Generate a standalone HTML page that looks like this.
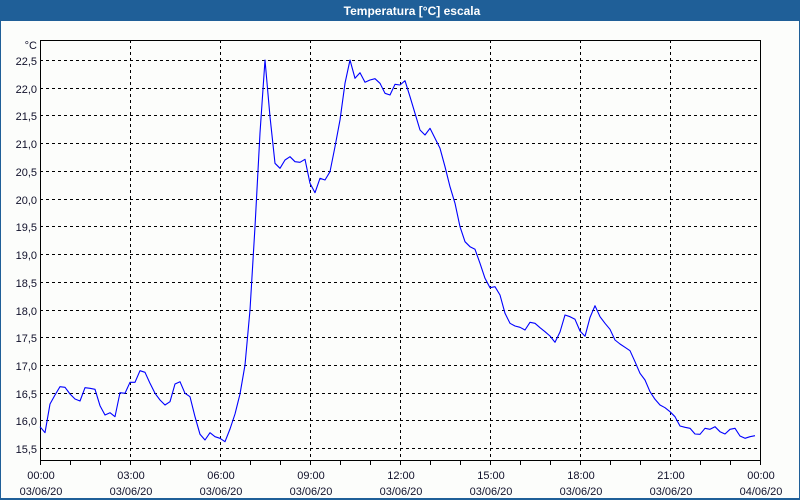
<!DOCTYPE html>
<html>
<head>
<meta charset="utf-8">
<style>
html,body{margin:0;padding:0;background:#fff;}
svg{display:block;}
text{font-family:"Liberation Sans","DejaVu Sans",sans-serif;}
</style>
</head>
<body>
<svg width="800" height="500" viewBox="0 0 800 500" xmlns="http://www.w3.org/2000/svg">
  <rect x="0" y="0" width="800" height="500" fill="#fcfdfb"/>
  <!-- frame -->
  <rect x="0" y="0" width="800" height="21" fill="#1f5f98"/>
  <rect x="0" y="0" width="1" height="500" fill="#1f5f98"/>
  <rect x="799" y="0" width="1" height="500" fill="#1f5f98"/>
  <rect x="0" y="498" width="800" height="2" fill="#1f5f98"/>
  <text x="412" y="15" fill="#ffffff" font-size="12" font-weight="bold" text-anchor="middle">Temperatura [°C] escala</text>

  <!-- grid horizontal -->
  <g stroke="#000" stroke-width="1" stroke-dasharray="3,3" shape-rendering="crispEdges">
    <line x1="40" y1="60.5" x2="760" y2="60.5"/>
    <line x1="40" y1="88.5" x2="760" y2="88.5"/>
    <line x1="40" y1="115.5" x2="760" y2="115.5"/>
    <line x1="40" y1="143.5" x2="760" y2="143.5"/>
    <line x1="40" y1="171.5" x2="760" y2="171.5"/>
    <line x1="40" y1="199.5" x2="760" y2="199.5"/>
    <line x1="40" y1="226.5" x2="760" y2="226.5"/>
    <line x1="40" y1="254.5" x2="760" y2="254.5"/>
    <line x1="40" y1="282.5" x2="760" y2="282.5"/>
    <line x1="40" y1="310.5" x2="760" y2="310.5"/>
    <line x1="40" y1="337.5" x2="760" y2="337.5"/>
    <line x1="40" y1="365.5" x2="760" y2="365.5"/>
    <line x1="40" y1="393.5" x2="760" y2="393.5"/>
    <line x1="40" y1="420.5" x2="760" y2="420.5"/>
    <line x1="40" y1="448.5" x2="760" y2="448.5"/>
    <!-- vertical -->
    <line x1="130.5" y1="40" x2="130.5" y2="460"/>
    <line x1="220.5" y1="40" x2="220.5" y2="460"/>
    <line x1="310.5" y1="40" x2="310.5" y2="460"/>
    <line x1="400.5" y1="40" x2="400.5" y2="460"/>
    <line x1="490.5" y1="40" x2="490.5" y2="460"/>
    <line x1="580.5" y1="40" x2="580.5" y2="460"/>
    <line x1="670.5" y1="40" x2="670.5" y2="460"/>
  </g>

  <!-- plot box -->
  <g stroke="#000" stroke-width="1" fill="none" shape-rendering="crispEdges">
    <polyline points="40.5,460.5 40.5,40.5 760.5,40.5 760.5,460.5 40.5,460.5"/>
    <path d="M40.5 460 V465 M70.5 460 V465 M100.5 460 V465 M130.5 460 V465 M160.5 460 V465 M190.5 460 V465 M220.5 460 V465 M250.5 460 V465 M280.5 460 V465 M310.5 460 V465 M340.5 460 V465 M370.5 460 V465 M400.5 460 V465 M430.5 460 V465 M460.5 460 V465 M490.5 460 V465 M520.5 460 V465 M550.5 460 V465 M580.5 460 V465 M610.5 460 V465 M640.5 460 V465 M670.5 460 V465 M700.5 460 V465 M730.5 460 V465 M760.5 460 V465"/>
  </g>

  <!-- y labels -->
  <g fill="#10102a" font-size="11" text-anchor="end">
    <text x="37" y="49">°C</text>
    <text x="37" y="65">22,5</text>
    <text x="37" y="93">22,0</text>
    <text x="37" y="120">21,5</text>
    <text x="37" y="148">21,0</text>
    <text x="37" y="176">20,5</text>
    <text x="37" y="204">20,0</text>
    <text x="37" y="231">19,5</text>
    <text x="37" y="259">19,0</text>
    <text x="37" y="287">18,5</text>
    <text x="37" y="315">18,0</text>
    <text x="37" y="342">17,5</text>
    <text x="37" y="370">17,0</text>
    <text x="37" y="398">16,5</text>
    <text x="37" y="425">16,0</text>
    <text x="37" y="453">15,5</text>
  </g>

  <!-- x labels -->
  <g fill="#10102a" font-size="11" text-anchor="middle">
    <text x="41" y="479">00:00</text><text x="41" y="495">03/06/20</text>
    <text x="131" y="479">03:00</text><text x="131" y="495">03/06/20</text>
    <text x="221" y="479">06:00</text><text x="221" y="495">03/06/20</text>
    <text x="311" y="479">09:00</text><text x="311" y="495">03/06/20</text>
    <text x="401" y="479">12:00</text><text x="401" y="495">03/06/20</text>
    <text x="491" y="479">15:00</text><text x="491" y="495">03/06/20</text>
    <text x="581" y="479">18:00</text><text x="581" y="495">03/06/20</text>
    <text x="671" y="479">21:00</text><text x="671" y="495">03/06/20</text>
    <text x="761" y="479">00:00</text><text x="761" y="495">04/06/20</text>
  </g>

  <!-- data -->
  <polyline fill="none" stroke="#0000ff" stroke-width="1.1" stroke-linejoin="round" points="
40,426.7 45,432.7 50,404 55,395 60,386.7 65,387.3 70,394 75,399 80,401 85,387.7 90,388.3 95,389.3
100,405.7 105,415 110,412.7 115,416.7 120,392.7 125,393.3 130,382.3 135,382.3 140,370.7 145,372.3
150,383.3 155,393.3 160,400 165,405 170,401.7 175,384 180,381.7 185,393.3 190,396.7 195,416.7
200,434.3 205,440 210,432.7 215,436.7 220,438.3 225,441.7 230,429 235,414 240,394 245,365
250,310 255,226.7 260,133 265,60 270,116.7 275,163.3 280,168.3 285,160 290,156.7 295,161.7
300,162.3 305,159.3 310,183.3 315,192.7 320,178.3 325,180 330,171.7 335,146.7 340,120 345,83.3
350,60 355,78.3 360,72.7 365,82.3 370,80 375,78.7 380,83.3 385,93.3 390,95 395,84.3
400,85 405,80.7 410,96.7 415,113.3 420,130 425,135 430,128.3 435,138.3 440,148.3 445,166.7
450,186.7 455,203.3 460,226.7 465,241.7 470,246.7 475,249.3 480,263.3 485,278.3 490,287.7 495,286.7
500,295 505,313.3 510,323.3 515,326 520,327.3 525,330 530,322.3 535,323.3 540,327.7 545,331.7
550,336 555,342.3 560,332 565,315 570,316.7 575,319.3 580,331 585,336.3 590,317.5 595,305.7
600,316.7 605,323.3 610,329.3 615,340 620,344 625,347.3 630,350.7 635,361.7 640,373.3 645,380
650,391.7 655,399.3 660,405 665,407.7 670,411.7 675,416.7 680,426 685,427.3 690,428.3 695,434
700,434.3 705,428.3 710,429.3 715,426.7 720,431.7 725,434 730,429.3 735,428.3 740,436 745,438.3
750,436.7 755,435.7"/>
</svg>
</body>
</html>
